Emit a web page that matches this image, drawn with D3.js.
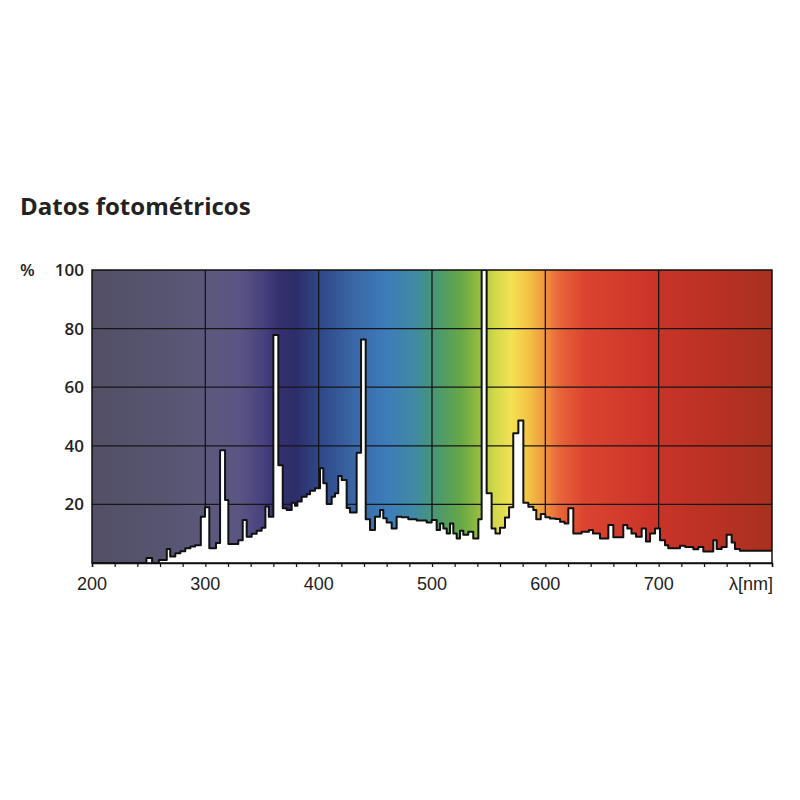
<!DOCTYPE html>
<html>
<head>
<meta charset="utf-8">
<script src="https://cdn.jsdelivr.net/npm/d3@7"></script>
<style>
  html, body { margin: 0; padding: 0; background: #fff; }
  svg { display: block; }
</style>
</head>
<body>
<svg id="chart" width="800" height="800"></svg>
<script>
// ---------- data ----------
const title = "Datos fotométricos";
const yUnit = "%";
const xUnit = "λ[nm]";
const xTickValues = [200, 300, 400, 500, 600, 700];
const xMinorTicks = d3.range(200, 801, 20);
const xGridValues = [300, 400, 500, 600, 700];
const yTickValues = [20, 40, 60, 80, 100];
// step spectrum: [wavelength start (nm), relative intensity (%)]
const spectrum = [
  [200, 0], [248, 1.7], [253, 0], [259, 1], [266, 4.8], [269, 2.2], [273.5, 3.3],
  [278, 4], [282.3, 5], [286.8, 5.6], [291, 6.1], [296, 15.8], [299.7, 19],
  [303.5, 5], [309.4, 6.8], [313, 38.5], [317.4, 21.5], [320.3, 6.5], [329.1, 7.8],
  [333, 14.7], [336.5, 9], [340.9, 10], [345.3, 11], [349.7, 12], [353, 19.3],
  [356, 15.8], [360, 77.8], [364.4, 33.4], [368.3, 18.7], [371.8, 18.1],
  [376.2, 20.6], [379.1, 19.5], [381.2, 21], [385, 22.6], [389.4, 23.5],
  [392.4, 24.7], [396.8, 25.5], [401.2, 32.3], [404.1, 27.2], [407.1, 20.1],
  [411.5, 22.6], [414.4, 23.8], [417.3, 29.7], [420.3, 28.3], [424.7, 18.8],
  [427.6, 17.2], [433.5, 37.6], [437.4, 76.3], [441.5, 14.9], [445.3, 11.3],
  [449.7, 15.8], [454.1, 18.1], [457, 15.3], [460, 13.8], [464.4, 11.8],
  [468.8, 15.8], [473.2, 15.6], [479.1, 14.9], [486.5, 14.5], [495.3, 13.8],
  [499.7, 14.7], [504.1, 11.3], [507.1, 13.5], [510, 11.8], [513, 10.1],
  [515.9, 13.5], [518.8, 10.1], [521.8, 8.4], [524.7, 11], [527.6, 9.6],
  [532, 10.7], [536.4, 8.4], [540.9, 14.9], [543.8, 100], [548.2, 23.8],
  [552.6, 11.8], [556, 10.1], [560, 12], [564.4, 15.5], [568, 19], [571.7, 44.3],
  [576.2, 48.6], [580.6, 20.6], [585, 19.2], [589.4, 18.1], [592, 14.9],
  [596, 16.7], [600, 15.6], [604, 15.2], [609, 15], [613, 14.1], [617, 13.5],
  [620.3, 18.7], [624.7, 10.1], [632, 10.7], [638.5, 11.3], [642, 10.1],
  [648.2, 8.4], [655.6, 13], [660, 8.8], [668.8, 13], [672.3, 11.8], [676, 10.1],
  [680, 9], [685, 11.8], [688.8, 7.3], [692.4, 10.1], [696.8, 11.8], [701.2, 7.8],
  [705.6, 6.1], [708.5, 5], [718.8, 5.9], [723.3, 5.5], [730.6, 4.7], [735, 5.5],
  [739.4, 3.9], [748.2, 7.8], [751.2, 4.8], [755.6, 5.5], [760, 9.6], [764.4, 7],
  [767.3, 4.8], [771.7, 4.2], [800, 4.2]
];

// ---------- style (background colour by wavelength) ----------
const bgStops = [
  [200, "#524f66"], [260, "#575470"], [300, "#5c587b"], [330, "#5b5584"],
  [350, "#48427e"], [365, "#34306e"], [380, "#2d2d69"], [400, "#2f4686"],
  [430, "#3a66a6"], [460, "#3e7cba"], [485, "#3f8aa2"], [505, "#4b986e"],
  [525, "#66a746"], [540, "#90bb40"], [555, "#d2d84a"], [570, "#f2e252"],
  [585, "#f3c445"], [598, "#f09a3e"], [612, "#e8653a"], [635, "#db4430"],
  [700, "#c93328"], [800, "#a8301f"]
];

// ---------- layout ----------
const svg = d3.select("#chart");
const margin = { left: 92, top: 270, right: 28, bottom: 237 };
const W = 800 - margin.left - margin.right;
const H = 800 - margin.top - margin.bottom;

const x = d3.scaleLinear().domain([200, 800]).range([0, W]);
const y = d3.scaleLinear().domain([0, 100]).range([H, 0]);

const defs = svg.append("defs");
const grad = defs.append("linearGradient")
  .attr("id", "spec").attr("gradientUnits", "userSpaceOnUse")
  .attr("x1", x(200)).attr("x2", x(800)).attr("y1", 0).attr("y2", 0);
grad.selectAll("stop").data(bgStops).join("stop")
  .attr("offset", d => (x(d[0]) / W))
  .attr("stop-color", d => d[1]);

defs.append("clipPath").attr("id", "clip")
  .append("rect").attr("x", 0).attr("y", 0).attr("width", W).attr("height", H);

// title
svg.append("text")
  .attr("x", 20).attr("y", 215)
  .attr("font-family", "'Open Sans', sans-serif")
  .attr("font-weight", 700).attr("font-size", 24)
  .attr("fill", "#222")
  .text(title);

const g = svg.append("g").attr("transform", `translate(${margin.left},${margin.top})`);

// background
g.append("rect").attr("width", W).attr("height", H).attr("fill", "url(#spec)");

// grid
g.selectAll("line.vg").data(xGridValues).join("line")
  .attr("class", "vg")
  .attr("x1", d => x(d)).attr("x2", d => x(d))
  .attr("y1", 0).attr("y2", H)
  .attr("stroke", "#161616").attr("stroke-width", 1.3);
g.selectAll("line.hg").data(yTickValues.filter(v => v < 100)).join("line")
  .attr("class", "hg")
  .attr("x1", 0).attr("x2", W)
  .attr("y1", d => y(d)).attr("y2", d => y(d))
  .attr("stroke", "#161616").attr("stroke-width", 1.3);

// spectrum
const area = d3.area()
  .x(d => x(d[0]))
  .y0(H)
  .y1(d => y(d[1]))
  .curve(d3.curveStepAfter);
const line = d3.line()
  .x(d => x(d[0]))
  .y(d => y(d[1]))
  .curve(d3.curveStepAfter);

const sg = g.append("g").attr("clip-path", "url(#clip)");
sg.append("path").datum(spectrum)
  .attr("d", area).attr("fill", "#ffffff");
sg.append("path").datum(spectrum)
  .attr("d", line).attr("fill", "none")
  .attr("stroke", "#111").attr("stroke-width", 2)
  .attr("stroke-linejoin", "round");

// border
g.append("rect").attr("width", W).attr("height", H)
  .attr("fill", "none").attr("stroke", "#111").attr("stroke-width", 1.5);

// x axis
const xAxis = d3.axisBottom(x).tickValues(xMinorTicks).tickSize(4).tickFormat("");
const xa = g.append("g").attr("transform", `translate(0,${H})`).call(xAxis);
xa.select(".domain").attr("stroke", "#111").attr("stroke-width", 1.5);
xa.selectAll(".tick line").attr("stroke", "#111").attr("stroke-width", 1.2);

g.selectAll("text.xl").data(xTickValues).join("text")
  .attr("class", "xl")
  .attr("x", d => x(d)).attr("y", H + 27)
  .attr("text-anchor", "middle")
  .attr("font-family", "'Liberation Sans', Arial, sans-serif")
  .attr("font-size", 18).attr("fill", "#222")
  .text(d => d);
g.append("text")
  .attr("x", W + 1).attr("y", H + 27)
  .attr("text-anchor", "end")
  .attr("font-family", "'Liberation Sans', Arial, sans-serif")
  .attr("font-size", 18).attr("fill", "#222")
  .text(xUnit);

// y labels
g.selectAll("text.yl").data(yTickValues).join("text")
  .attr("class", "yl")
  .attr("x", -8).attr("y", d => y(d) + 6)
  .attr("text-anchor", "end")
  .attr("font-family", "'Open Sans', sans-serif")
  .attr("font-weight", 600)
  .attr("font-size", 17).attr("fill", "#222")
  .text(d => d);
g.append("text")
  .attr("x", -72).attr("y", y(100) + 6)
  .attr("font-family", "'Open Sans', sans-serif")
  .attr("font-weight", 600)
  .attr("font-size", 17).attr("fill", "#222")
  .text(yUnit);
</script>
</body>
</html>
